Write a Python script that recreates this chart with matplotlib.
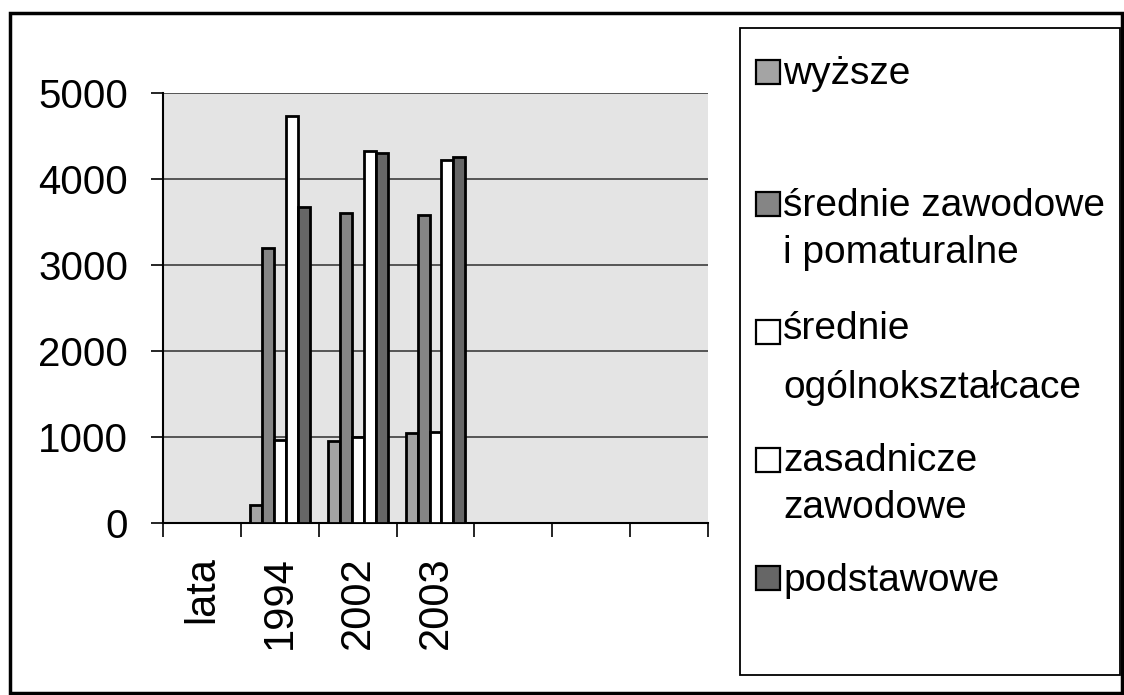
import matplotlib
matplotlib.use("Agg")
import matplotlib.pyplot as plt
from matplotlib.patches import Rectangle
import numpy as np

plt.rcParams['font.family'] = ['Liberation Sans', 'DejaVu Sans']

# ---- data ----
categories = ['lata', '1994', '2002', '2003', '', '', '']
series_names = ['wyższe', 'średnie zawodowe\ni pomaturalne', 'średnie\nogólnokształcace',
                'zasadnicze\nzawodowe', 'podstawowe']
wyzsze = [0, 210, 955, 1045, 0, 0, 0]
srednie_zawodowe = [0, 3200, 3610, 3580, 0, 0, 0]
srednie_ogolno = [0, 960, 1000, 1055, 0, 0, 0]
zasadnicze = [0, 4735, 4330, 4225, 0, 0, 0]
podstawowe = [0, 3680, 4300, 4260, 0, 0, 0]
series = [wyzsze, srednie_zawodowe, srednie_ogolno, zasadnicze, podstawowe]
y_ticks = [0, 1000, 2000, 3000, 4000, 5000]

colors = ['#a4a4a4', '#858585', '#ffffff', '#ffffff', '#666666']

W, H = 1124, 695
fig = plt.figure(figsize=(W / 100, H / 100), dpi=100)
fig.patch.set_facecolor('white')

def fx(px):
    return px / W

def fy(py):
    return 1 - py / H

# outer border
fig.patches.append(Rectangle((fx(10), fy(693)), fx(1122) - fx(10), fy(13) - fy(693),
                             transform=fig.transFigure, fill=False, ec='black', lw=2.5))

ax = fig.add_axes([fx(163), fy(523), fx(708) - fx(163), fy(93) - fy(523)])
ax.set_facecolor('#e4e4e4')

n = len(categories)
x = np.arange(n)
w = 1 / 6.5
for j, (vals, c) in enumerate(zip(series, colors)):
    ax.bar(x + (j - 2) * w, vals, width=w, color=c, edgecolor='black', linewidth=2.0, zorder=3)

ax.set_xlim(-0.5, n - 0.5)
ax.set_ylim(0, 5000)
ax.set_yticks(y_ticks)
ax.set_yticklabels([str(v) for v in y_ticks], fontsize=29)
ax.yaxis.grid(True, color='#4a4a4a', linewidth=1.3, zorder=0)
ax.set_axisbelow(True)

ax.set_xticks(x)
ax.set_xticklabels(categories, rotation=90, fontsize=30, va='top', ha='center')
ax.set_xticks(np.arange(-0.5, n, 1), minor=True)
ax.tick_params(axis='x', which='major', length=0, pad=24)
ax.tick_params(axis='x', which='minor', length=10, width=1.2, direction='out')
ax.tick_params(axis='y', length=9, width=1.2, direction='out', pad=16)

for s in ['top', 'right']:
    ax.spines[s].set_visible(False)
for s in ['left', 'bottom']:
    ax.spines[s].set_linewidth(1.5)
    ax.spines[s].set_color('black')

# legend (manual layout to mimic the original)
fig.patches.append(Rectangle((fx(740), fy(675)), fx(1120) - fx(740), fy(28) - fy(675),
                             transform=fig.transFigure, fc='white', ec='black', lw=1.3))

entries = [
    (colors[0], 84, ['wyższe'], [84]),
    (colors[1], 216, ['średnie zawodowe', 'i pomaturalne'], [216, 263]),
    (colors[2], 344, ['średnie', 'ogólnokształcace'], [339, 398]),
    (colors[3], 472, ['zasadnicze', 'zawodowe'], [471, 518]),
    (colors[4], 590, ['podstawowe'], [591]),
]
for c, sq_bottom, lines, baselines in entries:
    fig.patches.append(Rectangle((fx(756), fy(sq_bottom)), fx(780) - fx(756), fy(sq_bottom - 24) - fy(sq_bottom),
                                 transform=fig.transFigure, fc=c, ec='black', lw=1.6))
    for txt, b in zip(lines, baselines):
        fig.text(fx(783), fy(b), txt, fontsize=28, ha='left', va='baseline')

fig.savefig('out.png', dpi=100, facecolor='white')
